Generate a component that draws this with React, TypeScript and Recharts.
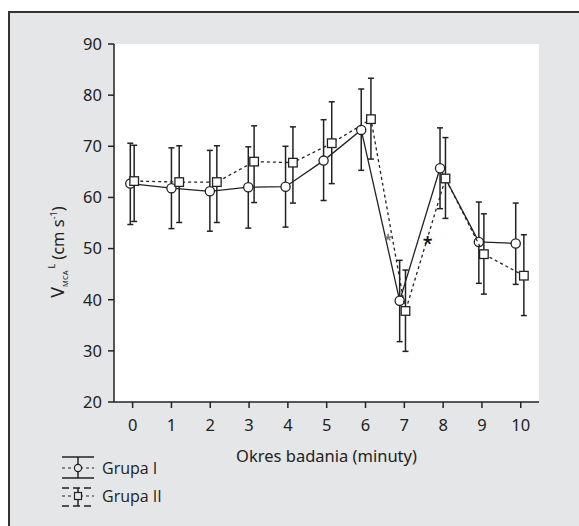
import { ScatterChart, Scatter, XAxis, YAxis, ErrorBar, CartesianGrid } from 'recharts';

// minutes on the x axis
const minuteTicks = [0, 1, 2, 3, 4, 5, 6, 7, 8, 9, 10];
const velocityTicks = [20, 30, 40, 50, 60, 70, 80, 90];

// Grupa I (circles, solid line) – points sit a little left of each minute
const g1X = [-0.06, 1.0, 1.99, 2.98, 3.94, 4.92, 5.89, 6.88, 7.92, 8.92, 9.87];
const g1Mean = [62.7, 61.8, 61.2, 62.0, 62.1, 67.2, 73.2, 39.8, 65.7, 51.3, 51.0];
const g1Low = [54.7, 53.9, 53.4, 54.0, 54.2, 59.4, 65.3, 31.8, 57.8, 43.2, 43.0];
const g1High = [70.6, 69.7, 69.2, 69.9, 70.0, 75.2, 81.2, 47.7, 73.6, 59.1, 58.9];

// Grupa II (squares, dotted line) – a little right of each minute
const g2X = [0.04, 1.2, 2.17, 3.13, 4.13, 5.13, 6.14, 7.03, 8.06, 9.05, 10.08];
const g2Mean = [63.2, 63.0, 63.0, 67.0, 66.8, 70.6, 75.3, 37.8, 63.7, 48.9, 44.7];
const g2Low = [55.3, 55.1, 55.1, 59.0, 58.9, 62.7, 67.5, 29.9, 55.9, 41.1, 36.9];
const g2High = [70.2, 70.1, 70.1, 74.0, 73.8, 78.7, 83.3, 45.8, 71.7, 56.8, 52.7];

// significance marks
const starX = [6.58, 7.6];
const starY = [52.4, 51.7];
const starColor = ['#6f6f6f', '#111'];

const FONT = "'Noto Sans', sans-serif";
const LEGEND_FONT = "'Open Sans', sans-serif";
const INK = '#222';

const toRows = (xs: number[], mean: number[], lo: number[], hi: number[]) =>
  xs.map((x, i) => ({ x, y: mean[i], err: [mean[i] - lo[i], hi[i] - mean[i]] }));

const g1Data = toRows(g1X, g1Mean, g1Low, g1High);
const g2Data = toRows(g2X, g2Mean, g2Low, g2High);
const starData = starX.map((x, i) => ({ x, y: starY[i], color: starColor[i], size: i === 0 ? 15 : 18 }));

const Circle = (p: any) => (
  <circle cx={p.cx} cy={p.cy} r={4.6} fill="#fff" stroke={INK} strokeWidth={1.3} />
);
const Square = (p: any) => (
  <rect x={p.cx - 4.3} y={p.cy - 4.3} width={8.6} height={8.6} fill="#fff" stroke={INK} strokeWidth={1.3} />
);
const Star = (p: any) => (
  <text x={p.cx} y={p.cy + p.payload.size * 0.55} textAnchor="middle" fontSize={p.payload.size}
    fontFamily={FONT} fontWeight={600} fill={p.payload.color}>*</text>
);

const YLabel = () => (
  <text transform="translate(64,252) rotate(-90)" textAnchor="middle" fontFamily={FONT} fill={INK} fontSize={16.5}>
    <tspan fontSize={18}>V</tspan>
    <tspan fontSize={7.5} dy={4}>MCA</tspan>
    <tspan fontSize={9} dx={2} dy={-13}>L</tspan>
    <tspan dx={4} dy={9}>(cm s</tspan>
    <tspan fontSize={9} dy={-7}>-1</tspan>
    <tspan dy={7}>)</tspan>
  </text>
);

function LegendBox() {
  return (
    <svg width={220} height={75} style={{ position: 'absolute', left: 0, top: 445 }}>
      <g stroke={INK} fill="none">
        {/* Grupa I */}
        <line x1={62} x2={94} y1={12} y2={12} strokeWidth={1.5} />
        <line x1={62} x2={94} y1={33} y2={33} strokeWidth={1.5} />
        <line x1={62} x2={94} y1={23} y2={23} strokeWidth={1.1} strokeDasharray="3 3" />
        <line x1={78} x2={78} y1={12} y2={33} strokeWidth={1.5} />
        <circle cx={78} cy={23} r={3.6} fill="#e5e6e8" strokeWidth={1.2} />
        {/* Grupa II */}
        <line x1={62} x2={94} y1={43} y2={43} strokeWidth={1.5} strokeDasharray="7 4" />
        <line x1={62} x2={94} y1={61} y2={61} strokeWidth={1.5} strokeDasharray="7 4" />
        <line x1={62} x2={94} y1={51} y2={51} strokeWidth={1.1} strokeDasharray="3 3" />
        <line x1={78} x2={78} y1={43} y2={61} strokeWidth={1.5} />
        <rect x={74.5} y={47.5} width={7} height={7} fill="#e5e6e8" strokeWidth={1.2} />
      </g>
      <text x={102} y={29} fontFamily={LEGEND_FONT} fontSize={16} fill={INK}>Grupa I</text>
      <text x={102} y={57} fontFamily={LEGEND_FONT} fontSize={16} fill={INK}>Grupa II</text>
    </svg>
  );
}

export default function App() {
  const tick = { fontSize: 16.5, fill: INK, fontFamily: FONT };
  return (
    <div style={{ position: 'absolute', left: 0, top: 0, width: 579, height: 526, background: '#fff', overflow: 'hidden' }}>
      <div style={{
        position: 'absolute', left: 8, top: 11, width: 575, height: 520,
        borderLeft: '2px solid #333', borderTop: '2px solid #333', background: '#e5e6e8',
      }} />
      <div style={{ position: 'absolute', left: 0, top: 0 }}>
        <ScatterChart width={579} height={526} margin={{ top: 44, right: 40, bottom: 94, left: 54 }}>
          <CartesianGrid fill="#fff" horizontal={false} vertical={false} />
          <XAxis type="number" dataKey="x" domain={[-0.48, 10.47]} ticks={minuteTicks} allowDataOverflow
            height={30} tick={tick} tickSize={6} tickMargin={11}
            axisLine={{ stroke: INK, strokeWidth: 1.5 }} tickLine={{ stroke: INK, strokeWidth: 1.5 }}
            label={{ value: 'Okres badania (minuty)', position: 'insideBottom', offset: -30, fontSize: 16.5, fill: INK, fontFamily: FONT }} />
          <XAxis xAxisId="top" orientation="top" type="number" domain={[0, 1]} height={0}
            tick={false} tickLine={false} axisLine={{ stroke: INK, strokeWidth: 1.5 }} />
          <YAxis type="number" dataKey="y" domain={[20, 90]} ticks={velocityTicks} allowDataOverflow
            width={60} tick={tick} tickSize={6} tickMargin={6}
            axisLine={{ stroke: INK, strokeWidth: 1.5 }} tickLine={{ stroke: INK, strokeWidth: 1.5 }}
            label={{ content: () => <YLabel /> }} />
          <YAxis yAxisId="right" orientation="right" type="number" domain={[0, 1]} width={0}
            tick={false} tickLine={false} axisLine={{ stroke: INK, strokeWidth: 1.5 }} />
          <Scatter data={g1Data} shape={Circle} line={{ stroke: INK, strokeWidth: 1.3 }} lineType="joint"
            isAnimationActive={false}>
            <ErrorBar dataKey="err" direction="y" width={3} stroke={INK} strokeWidth={1.5} isAnimationActive={false} />
          </Scatter>
          <Scatter data={g2Data} shape={Square} line={{ stroke: INK, strokeWidth: 1.3, strokeDasharray: '3 3' }}
            lineType="joint" isAnimationActive={false}>
            <ErrorBar dataKey="err" direction="y" width={3} stroke={INK} strokeWidth={1.5} isAnimationActive={false} />
          </Scatter>
          <Scatter data={starData} shape={Star} isAnimationActive={false} />
        </ScatterChart>
      </div>
      <LegendBox />
    </div>
  );
}
